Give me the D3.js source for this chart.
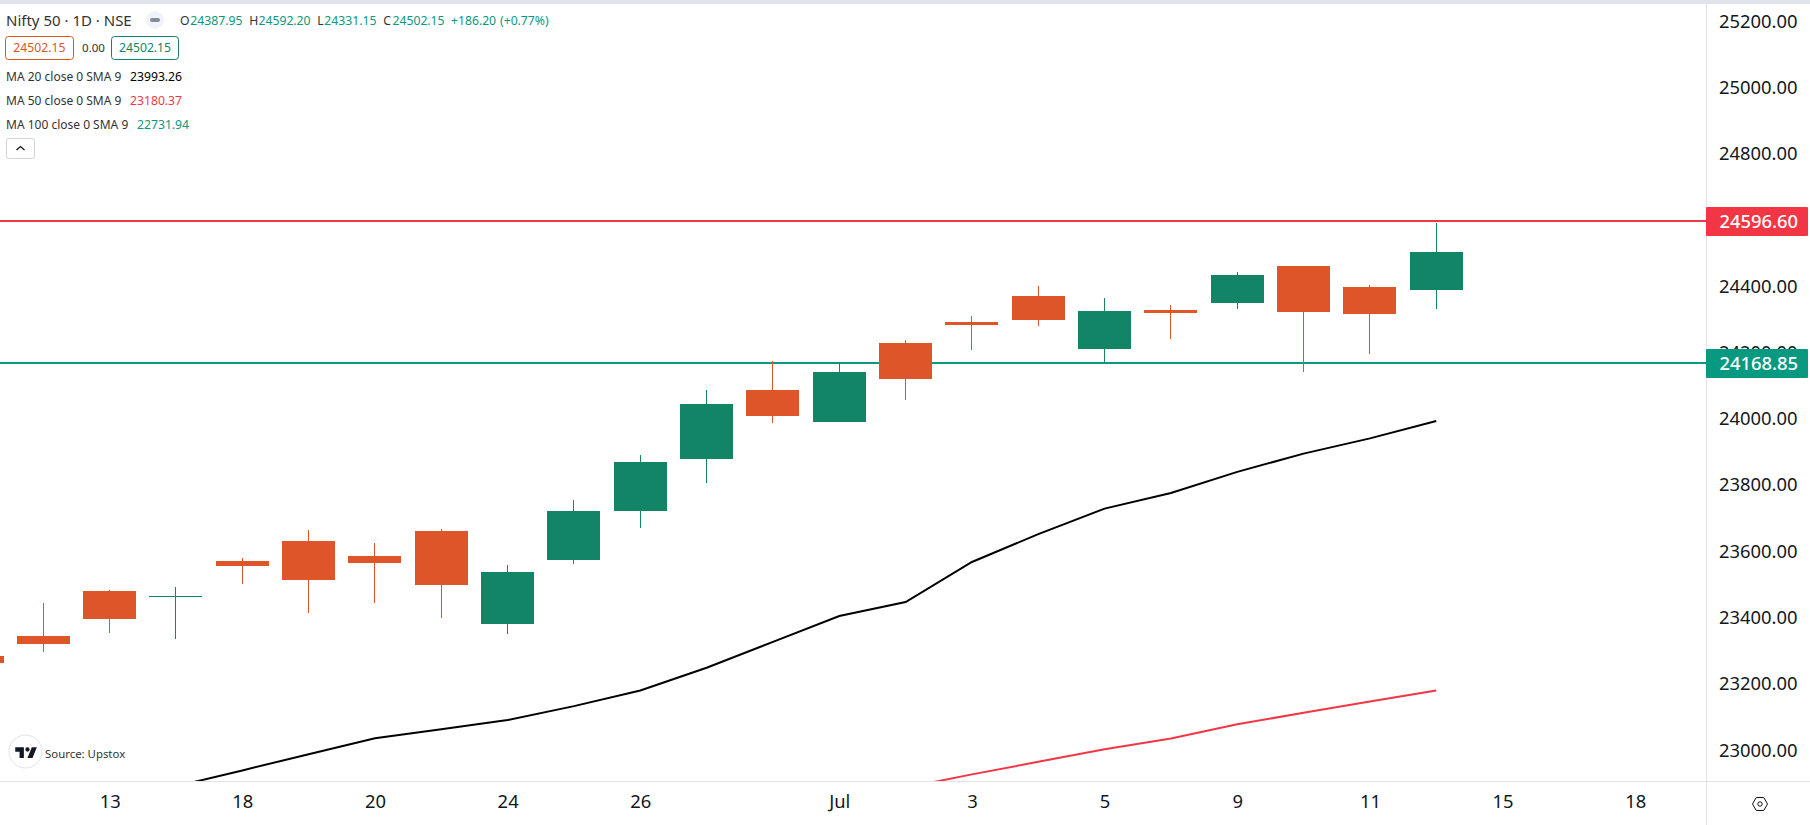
<!DOCTYPE html>
<html>
<head>
  <meta charset="utf-8">
  <title>Nifty 50 daily candles</title>
  <style>
    html, body { margin: 0; padding: 0; background: #fff; overflow: hidden; }
    svg { display: block; }
    text { font-family: "Noto Sans", sans-serif; }
  </style>
</head>
<body>
  <div id="chart"></div>
  <script src="https://cdn.jsdelivr.net/npm/d3@7"></script>
  <script type="text/javascript">
    // trading days, then the empty days the time axis runs on to
    var dates = ["Jun 11", "Jun 12", "Jun 13", "Jun 14", "Jun 18", "Jun 19", "Jun 20", "Jun 21", "Jun 24", "Jun 25",
      "Jun 26", "Jun 27", "Jun 28", "Jul 1", "Jul 2", "Jul 3", "Jul 4", "Jul 5", "Jul 8", "Jul 9",
      "Jul 10", "Jul 11", "Jul 12", "Jul 15", "Jul 16", "Jul 18"];

    var opens = [23284, 23344, 23480, 23462, 23570, 23631, 23585, 23661, 23380, 23573, 23721, 23878,
      24086, 23990, 24228, 24291, 24370, 24210, 24328, 24349, 24460, 24397, 24387.95];
    var highs = [23300, 23444, 23483, 23492, 23579, 23664, 23625, 23667, 23558, 23754, 23890, 24086,
      24174, 24171, 24237, 24310, 24400, 24364, 24343, 24442, 24460, 24403, 24592.20];
    var lows = [23240, 23296, 23353, 23335, 23501, 23413, 23444, 23398, 23350, 23561, 23670, 23806,
      23987, 23990, 24056, 24207, 24279, 24168, 24240, 24331, 24141, 24195, 24331.15];
    var closes = [23263, 23320, 23395, 23466, 23555, 23513, 23564, 23498, 23537, 23721, 23869, 24044,
      24008, 24141, 24119, 24282, 24298, 24325, 24319, 24433, 24322, 24315.95, 24502.15];

    // moving averages, the older part sits below the visible range
    var ma20 = [22891, 22939, 22988, 23036, 23063, 23091, 23133, 23180, 23249, 23327,
      23405, 23447, 23568, 23652, 23729, 23776, 23840, 23895, 23941, 23993.26];
    var ma50 = [22887, 22927, 22965, 23003, 23035, 23078, 23113, 23147, 23180.37];
    var ma20Dates = dates.slice(3, 23);
    var ma50Dates = dates.slice(14, 23);

    var priceTicks = d3.range(23000, 25201, 200);
    var timeTicks = ["Jun 13", "Jun 18", "Jun 20", "Jun 24", "Jun 26", "Jul 1", "Jul 3", "Jul 5", "Jul 9", "Jul 11", "Jul 15", "Jul 18"];
    var timeLabels = ["13", "18", "20", "24", "26", "Jul", "3", "5", "9", "11", "15", "18"];

    var resistance = 24596.60;
    var support = 24168.85;

    var w = 1810;
    var h = 825;
    var paneRight = 1706;
    var paneBottom = 781;
    var paneTop = 4;
    var bodyWidth = 53;

    var upColor = "#138567";
    var downColor = "#dd5528";
    var redLine = "#f23645";
    var greenLine = "#089981";
    var axisLine = "#e0e3eb";
    var textColor = "#131722";

    var svg = d3.select("#chart")
      .append("svg")
      .attr("width", w)
      .attr("height", h);

    svg.append("rect")
      .attr("width", w)
      .attr("height", paneTop)
      .attr("fill", axisLine);

    var x = d3.scalePoint()
      .domain(dates)
      .range([-23, 1635.25]);

    var y = d3.scaleLinear()
      .domain([23000, 25200])
      .range([750.2, 21.2]);

    svg.append("clipPath")
      .attr("id", "pane")
      .append("rect")
      .attr("x", 0)
      .attr("y", paneTop)
      .attr("width", paneRight)
      .attr("height", paneBottom - paneTop);

    var pane = svg.append("g").attr("clip-path", "url(#pane)");

    // support and resistance sit behind the candles
    [[resistance, redLine], [support, greenLine]].forEach(function(r) {
      pane.append("rect")
        .attr("shape-rendering", "crispEdges")
        .attr("x", 0)
        .attr("y", Math.round(y(r[0])) - 1)
        .attr("width", paneRight)
        .attr("height", 2)
        .attr("fill", r[1]);
    });

    // candles
    var candles = dates.slice(0, opens.length).map(function(d, i) {
      return { date: d, o: opens[i], h: highs[i], l: lows[i], c: closes[i] };
    });

    function candleColor(d) {
      return d.c >= d.o ? upColor : downColor;
    }

    pane.selectAll("rect.wick")
      .data(candles)
      .enter()
      .append("rect")
      .attr("class", "wick")
      .attr("shape-rendering", "crispEdges")
      .attr("x", function(d) { return Math.floor(x(d.date)); })
      .attr("y", function(d) { return Math.round(y(d.h)); })
      .attr("width", 1)
      .attr("height", function(d) { return Math.round(y(d.l)) - Math.round(y(d.h)); })
      .attr("fill", candleColor);

    pane.selectAll("rect.body")
      .data(candles)
      .enter()
      .append("rect")
      .attr("class", "body")
      .attr("shape-rendering", "crispEdges")
      .attr("x", function(d) { return Math.round(x(d.date) - bodyWidth / 2); })
      .attr("y", function(d) { return Math.round(y(Math.max(d.o, d.c))); })
      .attr("width", bodyWidth)
      .attr("height", function(d) {
        return Math.max(1, Math.round(y(Math.min(d.o, d.c))) - Math.round(y(Math.max(d.o, d.c))));
      })
      .attr("fill", candleColor);

    // moving average lines
    var line = d3.line()
      .x(function(d) { return x(d[0]); })
      .y(function(d) { return y(d[1]); });

    pane.append("path")
      .attr("d", line(d3.zip(ma20Dates, ma20)))
      .attr("fill", "none")
      .attr("stroke", "#000")
      .attr("stroke-width", 2);

    pane.append("path")
      .attr("d", line(d3.zip(ma50Dates, ma50)))
      .attr("fill", "none")
      .attr("stroke", redLine)
      .attr("stroke-width", 2);

    // frame of the panes
    svg.append("rect").attr("shape-rendering", "crispEdges")
      .attr("x", paneRight).attr("y", paneTop).attr("width", 1).attr("height", h - paneTop).attr("fill", axisLine);
    svg.append("rect").attr("shape-rendering", "crispEdges")
      .attr("x", 0).attr("y", paneBottom).attr("width", w).attr("height", 1).attr("fill", axisLine);

    // axes
    var yAxis = d3.axisRight(y)
      .tickValues(priceTicks)
      .tickFormat(d3.format(".2f"))
      .tickSize(0)
      .tickPadding(13);

    var yg = svg.append("g")
      .attr("transform", "translate(" + paneRight + ",0)")
      .call(yAxis);
    yg.select(".domain").remove();
    yg.selectAll("text").attr("font-size", 18.4).attr("fill", textColor).style("font-family", '"Noto Sans", sans-serif');

    var xAxis = d3.axisBottom(x)
      .tickValues(timeTicks)
      .tickFormat(function(d) { return timeLabels[timeTicks.indexOf(d)]; })
      .tickSize(0)
      .tickPadding(14);

    var xg = svg.append("g")
      .attr("transform", "translate(0," + paneBottom + ")")
      .call(xAxis);
    xg.select(".domain").remove();
    xg.selectAll("text").attr("font-size", 18.4).attr("fill", textColor).style("font-family", '"Noto Sans", sans-serif');

    // price labels on the axis
    [[resistance, redLine], [support, greenLine]].forEach(function(r) {
      var py = Math.round(y(r[0]));
      svg.append("rect")
        .attr("x", paneRight)
        .attr("y", py - 14)
        .attr("width", 102)
        .attr("height", 29)
        .attr("rx", 1)
        .attr("fill", r[1]);
      svg.append("text")
        .attr("x", 1719.5)
        .attr("y", py + 0.5)
        .attr("dy", "0.35em")
        .attr("font-size", 18.4)
        .attr("font-weight", 500)
        .attr("fill", "#fff")
        .text(d3.format(".2f")(r[0]));
    });

    // settings icon
    var gear = svg.append("g").attr("transform", "translate(1760,804)");
    gear.append("path")
      .attr("d", d3.line()(d3.range(6).map(function(i) {
        var a = Math.PI / 3 * i;
        return [7.5 * Math.cos(a), 7.5 * Math.sin(a)];
      })) + "Z")
      .attr("fill", "none")
      .attr("stroke", textColor);
    gear.append("circle").attr("r", 2.2).attr("fill", "none").attr("stroke", textColor);

    // legend
    var last = opens.length - 1;
    var fmt = d3.format(".2f");

    function label(tx, ty, str, size, color) {
      return svg.append("text")
        .attr("x", tx)
        .attr("y", ty)
        .attr("dy", "0.35em")
        .attr("font-size", size)
        .attr("fill", color)
        .text(str);
    }

    label(6, 21, "Nifty 50 · 1D · NSE", 15, "#333");

    svg.append("circle").attr("cx", 155).attr("cy", 20).attr("r", 9).attr("fill", "#f0f3fa");
    svg.append("rect").attr("x", 150).attr("y", 18).attr("width", 10).attr("height", 4).attr("rx", 2).attr("fill", "#868a99");

    label(180, 21, "O", 12.2, "#333");
    label(190.3, 21, fmt(opens[last]), 12.2, greenLine);
    label(249.3, 21, "H", 12.2, "#333");
    label(258.5, 21, fmt(highs[last]), 12.2, greenLine);
    label(317.3, 21, "L", 12.2, "#333");
    label(324.3, 21, fmt(lows[last]), 12.2, greenLine);
    label(383.3, 21, "C", 12.2, "#333");
    label(392.5, 21, fmt(closes[last]), 12.2, greenLine);
    label(451, 21, "+" + fmt(closes[last] - closes[last - 1]), 12.2, greenLine);
    label(500, 21, "(+0.77%)", 12.2, greenLine);

    svg.append("rect").attr("x", 5.5).attr("y", 36.5).attr("width", 68).attr("height", 23).attr("rx", 3)
      .attr("fill", "none").attr("stroke", downColor);
    label(13.3, 48, fmt(closes[last]), 12.2, downColor);
    label(82, 48, "0.00", 11.6, "#333");
    svg.append("rect").attr("x", 111.5).attr("y", 36.5).attr("width", 67).attr("height", 23).attr("rx", 3)
      .attr("fill", "none").attr("stroke", upColor);
    label(119, 48, fmt(closes[last]), 12.2, upColor);

    label(6, 76.5, "MA 20 close 0 SMA 9", 12, "#333");
    label(130, 76.5, fmt(ma20[ma20.length - 1]), 12.2, "#000");
    label(6, 100.5, "MA 50 close 0 SMA 9", 12, "#333");
    label(130, 100.5, fmt(ma50[ma50.length - 1]), 12.2, redLine);
    label(6, 124.5, "MA 100 close 0 SMA 9", 12, "#333");
    label(137, 124.5, fmt(22731.94), 12.2, greenLine);

    svg.append("rect").attr("x", 6.5).attr("y", 138.5).attr("width", 28).attr("height", 20).attr("rx", 2)
      .attr("fill", "#fff").attr("stroke", "#d1d4dc");
    svg.append("path").attr("d", "M16.5 150L20.5 146.5L24.5 150")
      .attr("fill", "none").attr("stroke", textColor).attr("stroke-width", 1.3);

    // source badge
    svg.append("circle").attr("cx", 25.5).attr("cy", 751.5).attr("r", 16.5)
      .attr("fill", "#fff").attr("stroke", axisLine);
    svg.append("path")
      .attr("transform", "translate(13.8,743) scale(0.72)")
      .attr("d", "M14 6H2v6h6v9h6V6Zm12 15h-7l6-15h7l-6 15Zm-7-9a3 3 0 1 0 0-6 3 3 0 0 0 0 6Z")
      .attr("fill", textColor);
    label(45, 754, "Source: Upstox", 11.4, "#333");
  </script>
</body>
</html>
